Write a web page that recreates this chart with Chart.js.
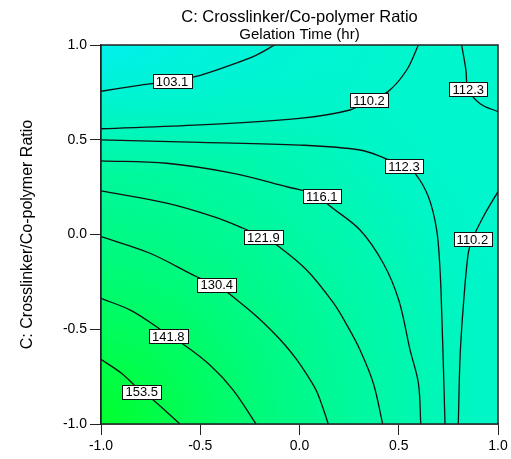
<!DOCTYPE html>
<html>
<head>
<meta charset="utf-8">
<script src="https://cdn.jsdelivr.net/npm/chart.js@4.4.1/dist/chart.umd.min.js"></script>
<style>
  html, body { margin: 0; padding: 0; background: #fff; }
  canvas { display: block; }
</style>
</head>
<body>
<canvas id="cc" width="511" height="459"></canvas>
<script>
// Contour lines of Gelation Time (hr) as [x, y] pairs
const c1031 = [[-1, 0.756], [-0.80, 0.788], [-0.642, 0.81], [-0.50, 0.84], [-0.33, 0.90], [-0.22, 0.945], [-0.125, 1.0]];
const c1102a = [[-1, 0.558], [-0.5, 0.578], [0, 0.613], [0.254, 0.657], [0.35, 0.71], [0.446, 0.754], [0.54, 0.868], [0.599, 1.0]];
const c1123a = [[0.817, 1.0], [0.838, 0.87], [0.85, 0.766], [0.91, 0.69], [1.0, 0.648]];
const c1123b = [[-1, 0.499], [-0.5, 0.486], [0, 0.472], [0.305, 0.446], [0.431, 0.402], [0.526, 0.361], [0.582, 0.323],
                [0.649, 0.2], [0.691, 0.024], [0.708, -0.187], [0.716, -0.398], [0.725, -0.7], [0.733, -1.0]];
const c1161 = [[-1, 0.389], [-0.669, 0.376], [-0.333, 0.323], [-0.064, 0.252], [0.112, 0.203], [0.137, 0.165],
               [0.305, 0.024], [0.422, -0.152], [0.50, -0.346], [0.557, -0.609], [0.599, -0.785], [0.611, -1.0]];
const c1219 = [[-1, 0.23], [-0.669, 0.165], [-0.434, 0.094], [-0.283, 0.033], [-0.182, -0.015], [-0.115, -0.055],
               [0.036, -0.187], [0.17, -0.36], [0.24, -0.48], [0.305, -0.609], [0.372, -0.785], [0.419, -1.0]];
const c1304 = [[-1, -0.011], [-0.753, -0.099], [-0.518, -0.223], [-0.417, -0.266], [-0.315, -0.346],
               [-0.224, -0.425], [-0.144, -0.504], [-0.073, -0.583], [-0.013, -0.662], [0.038, -0.741],
               [0.083, -0.82], [0.113, -0.90], [0.145, -1.0]];
const c1418 = [[-1, -0.337], [-0.85, -0.40], [-0.72, -0.487], [-0.661, -0.536], [-0.593, -0.574],
               [-0.45, -0.69], [-0.335, -0.82], [-0.219, -1.0]];
const c1535 = [[-1, -0.659], [-0.90, -0.73], [-0.795, -0.83], [-0.737, -0.873], [-0.602, -1.0]];
const c1102b = [[1.0, 0.226], [0.926, 0.094], [0.871, -0.025], [0.85, -0.1], [0.825, -0.381], [0.809, -0.645], [0.80, -1.0]];

const contours = [c1031, c1102a, c1123a, c1123b, c1161, c1219, c1304, c1418, c1535, c1102b];

// Contour labels
const labelText = ['103.1', '110.2', '112.3', '112.3', '116.1', '121.9', '130.4', '141.8', '153.5', '110.2'];
const labelX = [-0.642, 0.35, 0.85, 0.526, 0.112, -0.182, -0.417, -0.661, -0.795, 0.871];
const labelY = [0.81, 0.71, 0.766, 0.361, 0.203, -0.015, -0.266, -0.536, -0.83, -0.025];

// Axis ticks
const tickValues = [-1.0, -0.5, 0.0, 0.5, 1.0];

const titleText = 'C: Crosslinker/Co-polymer Ratio';
const subTitleText = 'Gelation Time (hr)';
const yTitleText = 'C: Crosslinker/Co-polymer Ratio';

const FONT = '"Liberation Sans", Arial, sans-serif';
Chart.defaults.font.family = FONT;

// colour wash behind the contours
const backdrop = {
  id: 'backdrop',
  beforeDatasetsDraw(chart) {
    const ctx = chart.ctx, a = chart.chartArea;
    ctx.save();
    ctx.beginPath();
    ctx.rect(a.left, a.top, a.width, a.height);
    ctx.clip();
    ctx.fillStyle = 'rgb(0,246,204)';
    ctx.fillRect(a.left, a.top, a.width, a.height);

    const g = ctx.createRadialGradient(a.left, a.bottom, 0, a.left, a.bottom, 430);
    g.addColorStop(0, 'rgb(0,255,45)');
    g.addColorStop(0.2, 'rgb(0,253,88)');
    g.addColorStop(0.4, 'rgb(0,250,128)');
    g.addColorStop(0.64, 'rgb(0,248,165)');
    g.addColorStop(0.9, 'rgb(0,246,198)');
    g.addColorStop(1, 'rgb(0,246,204)');
    ctx.fillStyle = g;
    ctx.fillRect(a.left, a.top, a.width, a.height);

    // cyan corner, top left
    const rx = 330, ry = 130;
    ctx.translate(a.left, a.top);
    ctx.scale(1, ry / rx);
    const g2 = ctx.createRadialGradient(0, 0, 0, 0, 0, rx);
    g2.addColorStop(0, 'rgba(0,240,236,1)');
    g2.addColorStop(1, 'rgba(0,244,215,0)');
    ctx.fillStyle = g2;
    ctx.fillRect(0, 0, a.width, a.height * rx / ry);
    ctx.restore();
  },
  afterDatasetsDraw(chart) {
    const ctx = chart.ctx, a = chart.chartArea;
    const xs = chart.scales.x, ys = chart.scales.y;
    ctx.save();
    ctx.font = '13px ' + FONT;
    ctx.textAlign = 'center';
    ctx.textBaseline = 'middle';
    for (let i = 0; i < labelText.length; i++) {
      const px = xs.getPixelForValue(labelX[i]);
      const py = ys.getPixelForValue(labelY[i]);
      const w = ctx.measureText(labelText[i]).width + 6;
      const h = 14;
      ctx.fillStyle = '#fff';
      ctx.fillRect(Math.round(px - w / 2) + 0.5, Math.round(py - h / 2) + 0.5, Math.round(w), h);
      ctx.strokeStyle = '#111';
      ctx.lineWidth = 1;
      ctx.strokeRect(Math.round(px - w / 2) + 0.5, Math.round(py - h / 2) + 0.5, Math.round(w), h);
      ctx.fillStyle = '#000';
      ctx.fillText(labelText[i], px, py + 1);
    }
    // plot frame
    ctx.strokeStyle = '#222';
    ctx.lineWidth = 1.5;
    ctx.strokeRect(a.left, a.top, a.width, a.height);
    ctx.restore();
  },
  afterDraw(chart) {
    const ctx = chart.ctx, a = chart.chartArea;
    const cx = (a.left + a.right) / 2;
    ctx.save();
    ctx.fillStyle = '#000';
    ctx.textAlign = 'center';
    ctx.textBaseline = 'middle';
    ctx.font = '16.5px ' + FONT;
    ctx.fillText(titleText, cx, 17);
    ctx.font = '15px ' + FONT;
    ctx.fillText(subTitleText, cx, 35);
    ctx.translate(28, (a.top + a.bottom) / 2);
    ctx.rotate(-Math.PI / 2);
    ctx.font = '16px ' + FONT;
    ctx.fillText(yTitleText, 0, 0);
    ctx.restore();
  }
};

const axisCommon = {
  type: 'linear',
  min: -1,
  max: 1,
  afterBuildTicks(scale) { scale.ticks = tickValues.map(v => ({ value: v })); },
  ticks: {
    callback: v => (Math.round(v * 10) / 10).toFixed(1),
    font: { size: 14 },
    color: '#000',
    padding: 3
  },
  grid: { drawOnChartArea: false, drawTicks: true, tickLength: 11, color: '#222', lineWidth: 1 },
  border: { display: true, color: '#222', width: 1.5 }
};

new Chart(document.getElementById('cc'), {
  type: 'scatter',
  data: {
    datasets: contours.map(c => ({
      data: c.map(p => ({ x: p[0], y: p[1] })),
      showLine: true,
      borderColor: '#111',
      borderWidth: 1.3,
      pointRadius: 0,
      tension: 0.35,
      fill: false
    }))
  },
  options: {
    responsive: false,
    animation: false,
    devicePixelRatio: 1,
    layout: { padding: { top: 45, right: 13, left: 0, bottom: 0 } },
    plugins: {
      legend: { display: false },
      tooltip: { enabled: false },
      title: { display: false }
    },
    scales: {
      x: Object.assign({}, axisCommon, { afterFit(s) { s.height = 35; } }),
      y: Object.assign({}, axisCommon, { afterFit(s) { s.width = 101; } })
    }
  },
  plugins: [backdrop]
});
</script>
</body>
</html>
